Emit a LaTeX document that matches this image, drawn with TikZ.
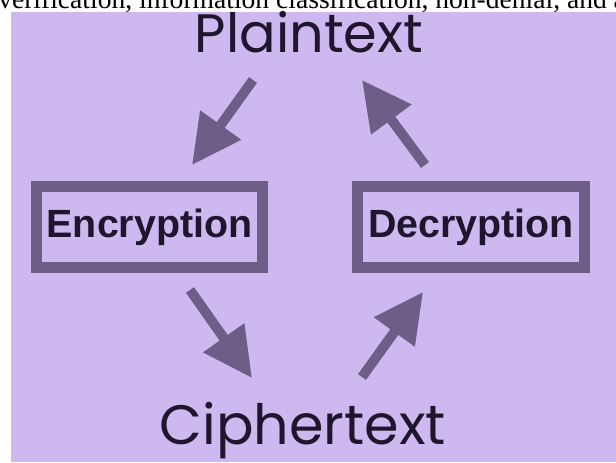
\documentclass[tikz,border=0pt]{standalone}
\usepackage{fontspec}
\setmainfont{Liberation Serif}
\newfontfamily\gothic{Poppins}
\newfontfamily\boxfont{Liberation Sans}
\usetikzlibrary{arrows.meta}
\definecolor{lavender}{RGB}{205,184,240}
\definecolor{frame}{RGB}{108,94,134}
\definecolor{ink}{RGB}{30,22,45}
\tikzstyle{arrow} = [line width=7pt, draw=frame, -{Triangle[length=35pt, width=34pt]}]
\tikzstyle{block} = [rectangle, draw=frame, line width=7.8pt, minimum width=5.65cm, minimum height=2.025cm,
font=\boxfont\bfseries\fontsize{28}{32}\selectfont, text=ink]
\tikzstyle{word} = [font=\gothic\fontsize{38.5}{44}\selectfont, text=ink, inner sep=0pt]

\begin{document}
\begin{tikzpicture}[x=0.025cm, y=-0.025cm]
    \useasboundingbox (0,0) rectangle (616,462);
    \clip (0,0) rectangle (616,462);
    \fill[lavender] (11,12) rectangle (616,462);
    % Cut-off caption line
    \node[anchor=base west, inner sep=0pt, font=\fontsize{19.6}{22}\selectfont] (caption) at (-2,8)
        {verification, information classification, non-denial, and a};

    % Nodes
    \node[word, anchor=base] (plain)  at (309, 52) {Plaintext};
    \node[block]             (enc)    at (149.5, 227) {Encryption};
    \node[block]             (dec)    at (471, 227) {Decryption};
    \node[word, anchor=base, font=\gothic\fontsize{39.5}{46}\selectfont] (cipher) at (303, 444) {Ciphertext};

    % Arrow ends
    \coordinate (plainL) at (253, 80);   \coordinate (encT) at (192, 165);
    \coordinate (encB)   at (190, 290);  \coordinate (cipherL) at (252, 378);
    \coordinate (cipherR) at (362, 377); \coordinate (decB) at (423, 292);
    \coordinate (decT)   at (425, 165);  \coordinate (plainR) at (362, 80);

    % Arrows
    \draw[arrow] (plainL) -- (encT);
    \draw[arrow] (encB) -- (cipherL);
    \draw[arrow] (cipherR) -- (decB);
    \draw[arrow] (decT) -- (plainR);

\end{tikzpicture}
\end{document}
